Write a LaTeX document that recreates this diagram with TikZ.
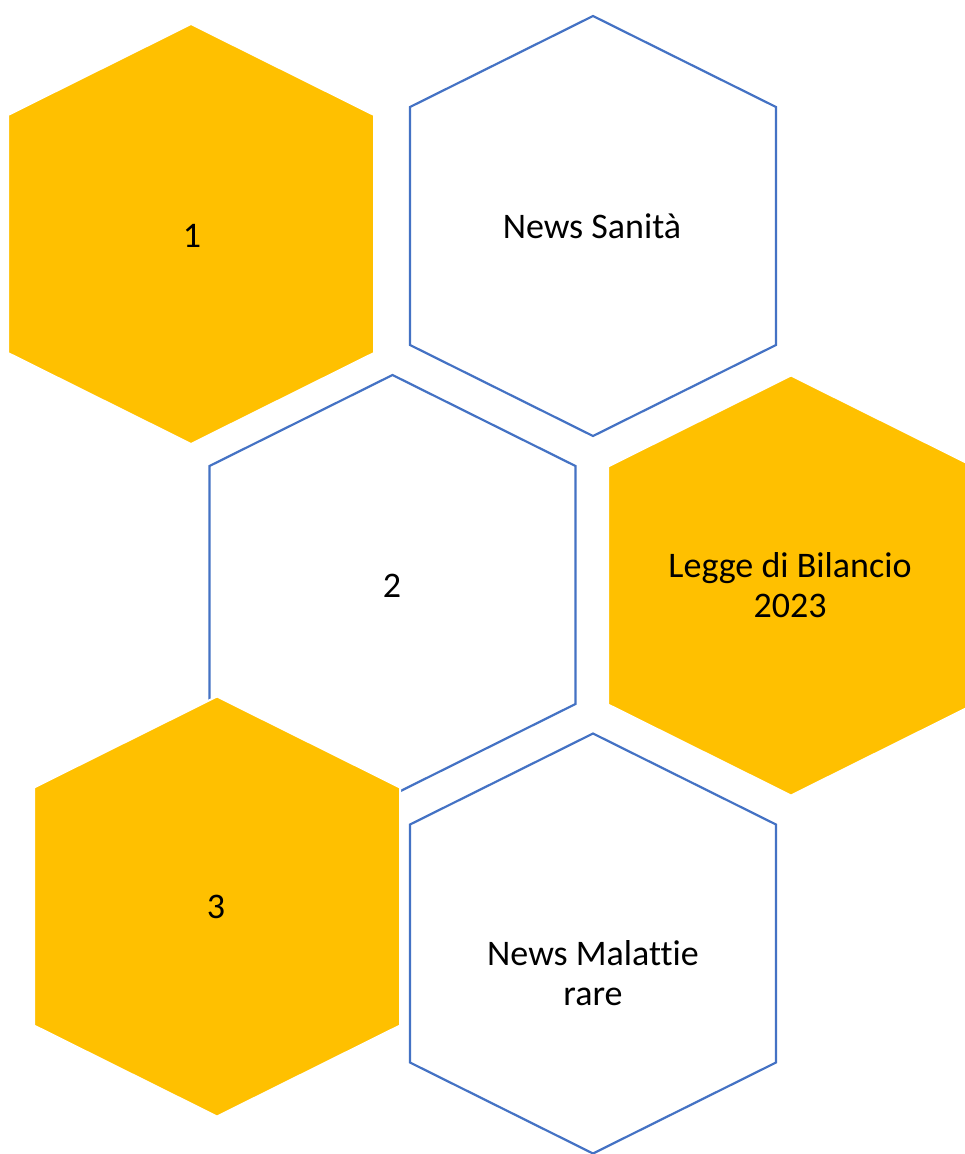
\documentclass[tikz,border=0pt]{standalone}
\usepackage{fontspec}
\setmainfont[Ligatures=NoCommon]{Carlito}
\definecolor{hexgold}{HTML}{FFC000}
\definecolor{hexblue}{HTML}{4472C4}
\newcommand{\hexat}[2]{(#1,#2) ++(0,-210) -- ++(183,91) -- ++(0,238) -- ++(-183,91) -- ++(-183,-91) -- ++(0,-238) -- cycle}
\tikzset{
  goldhex/.style={fill=hexgold, draw=white, line width=2pt, line join=miter},
  whitehex/.style={fill=white, draw=hexblue, line width=2.2pt, line join=miter},
  hexlabel/.style={font=\fontsize{36}{40}\selectfont, align=center, text=black, inner sep=0pt}
}
\begin{document}
\begin{tikzpicture}[x=1pt,y=-1pt]
\useasboundingbox (0,0) rectangle (965,1154);
\clip (0,0) rectangle (965,1154);
\fill[white] (0,0) rectangle (965,1154);
\path[goldhex] \hexat{191}{234};
\path[whitehex] \hexat{593}{226};
\path[whitehex] \hexat{392.5}{585};
\path[goldhex] \hexat{791}{585.5};
\path[goldhex] \hexat{217}{906.5};
\path[whitehex] \hexat{593}{943.5};
\node[hexlabel] (h1) at (192,236) {1};
\node[hexlabel] (h2) at (592,226) {News Sanità};
\node[hexlabel] (h3) at (392,586) {2};
\node[hexlabel] (h4) at (790,585) {Legge di Bilancio\\2023};
\node[hexlabel] (h5) at (216,907) {3};
\node[hexlabel] (h6) at (593,973) {News Malattie\\rare};
\end{tikzpicture}
\end{document}
